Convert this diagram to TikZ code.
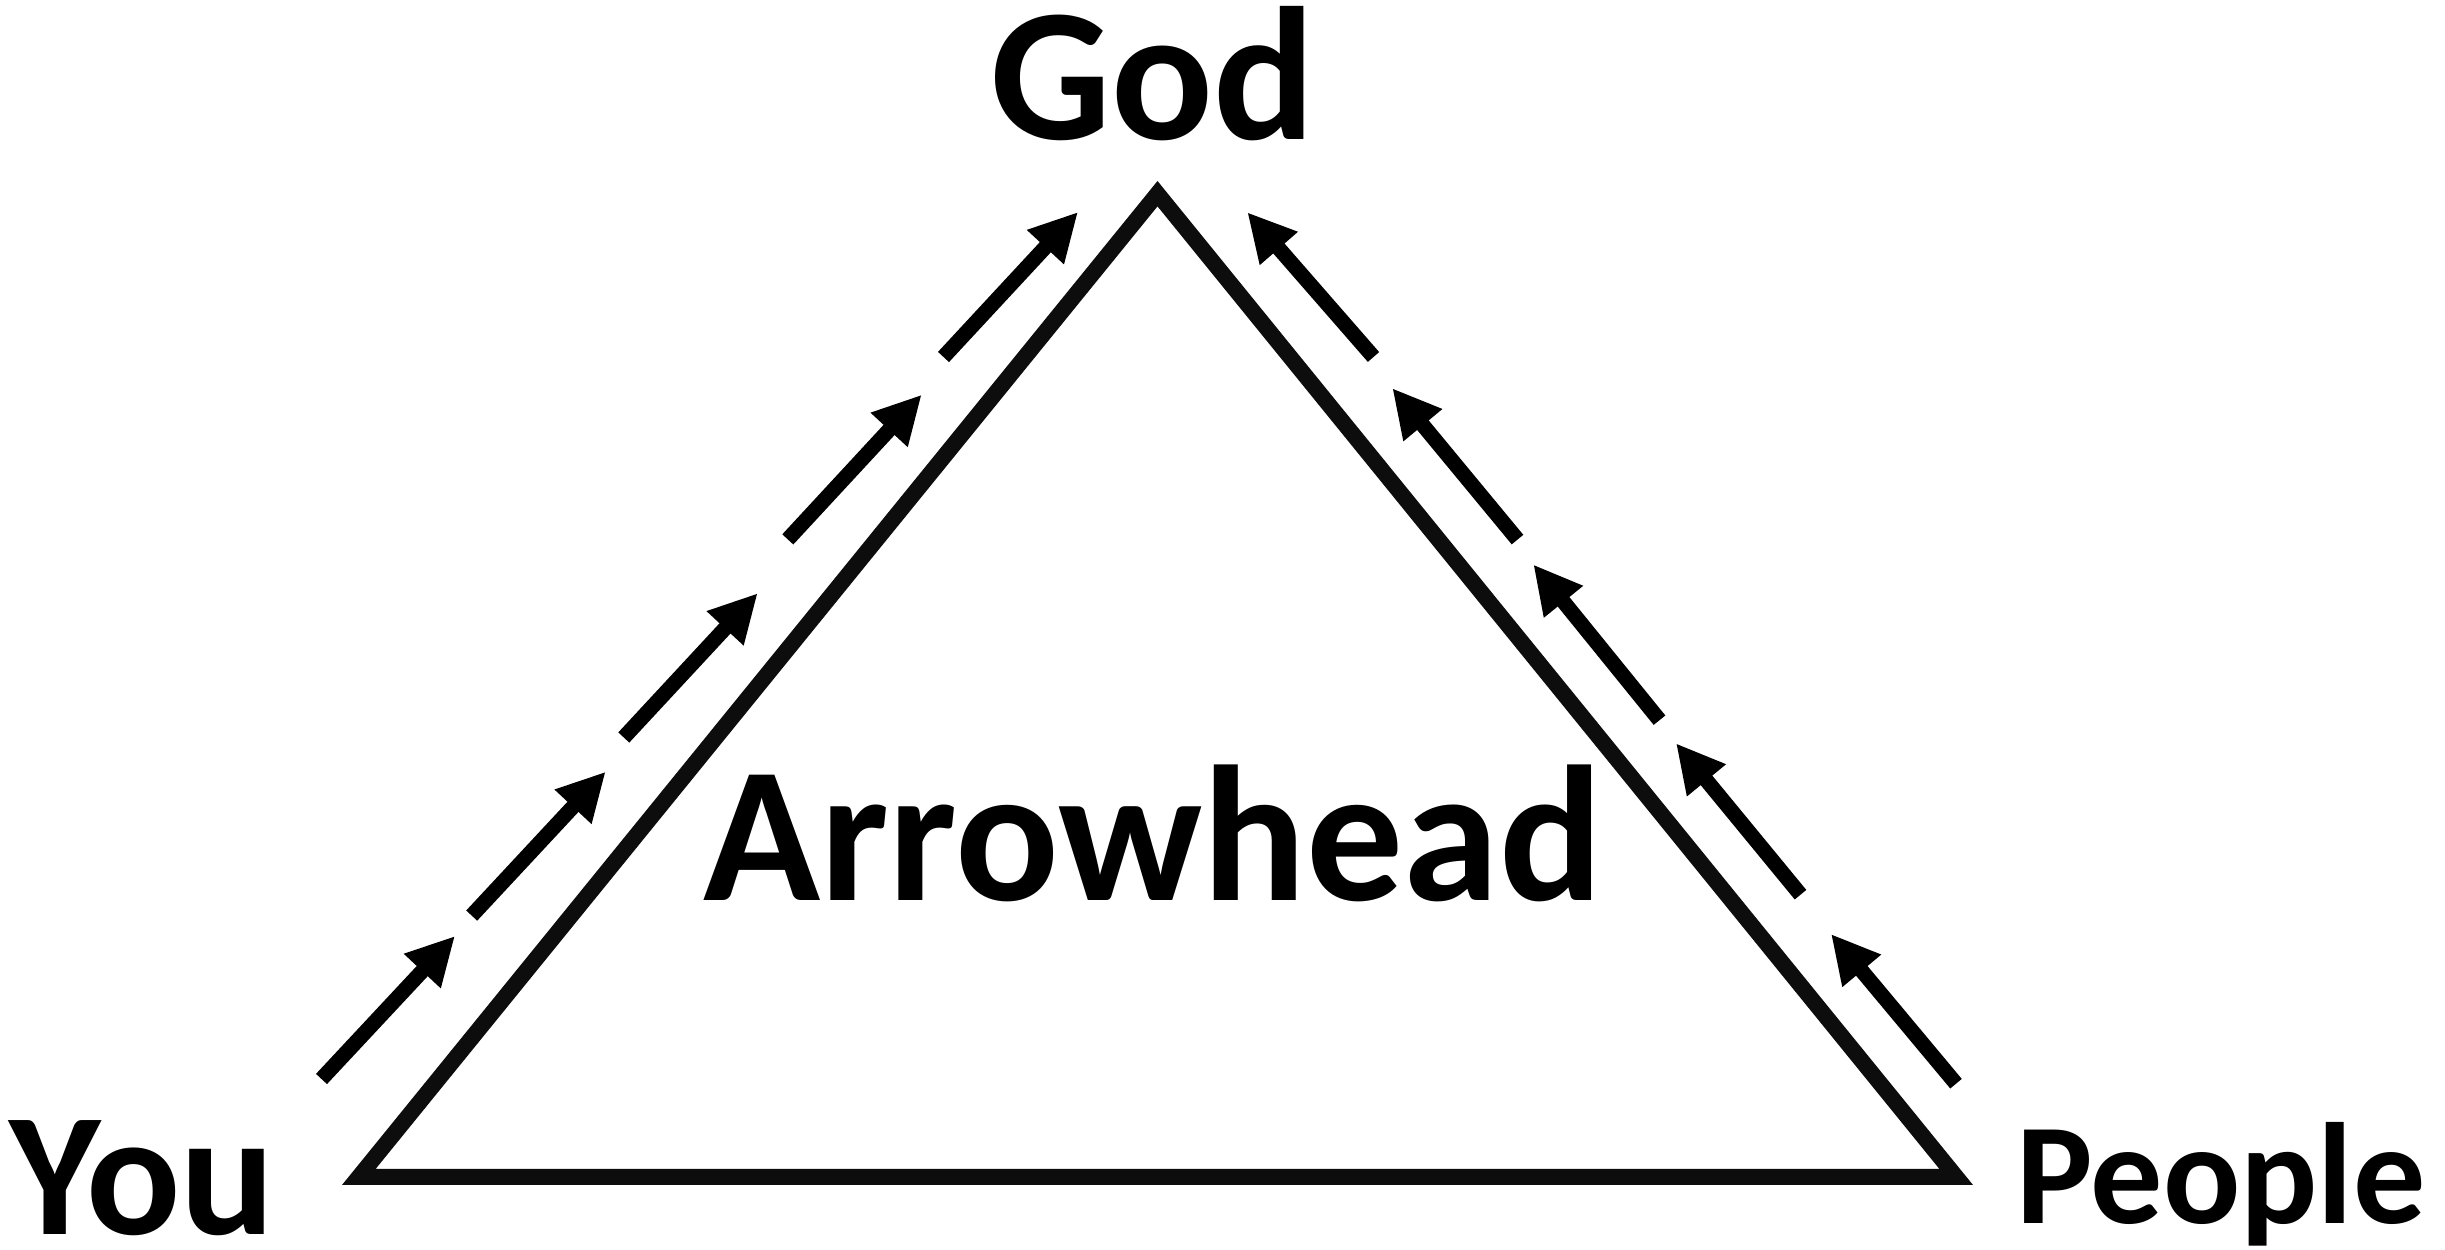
\documentclass[tikz,border=0pt]{standalone}
\usepackage{fontspec}
\setmainfont{Carlito}
\usetikzlibrary{arrows.meta}
\definecolor{edgeblack}{HTML}{0D0D0D}

\begin{document}
\begin{tikzpicture}[
      every node/.style={inner sep=0pt,anchor=base,font=\bfseries},
      side/.style={draw=edgeblack,line width=1.6mm,line join=miter},
      upflow/.style={draw=black,line width=1.5mm,
        -{Triangle[length=4.8mm,width=4.7mm]}}
    ]
    \useasboundingbox (0,0) rectangle (24.45,12.5);

    \coordinate (top)   at (11.575,10.563);
    \coordinate (left)  at (3.588,0.73);
    \coordinate (right) at (19.562,0.73);
    \draw[side] (left) -- (top) -- (right) -- cycle;

    \node[font=\bfseries\fontsize{54}{60}\selectfont] (god) at (11.53,11.10) {God};
    \node[font=\bfseries\fontsize{55}{60}\selectfont] (label) at (11.53,3.49) {Arrowhead};
    \node[font=\bfseries\fontsize{50}{56}\selectfont] (you) at (1.42,0.15) {You};
    \node[font=\bfseries\fontsize{41}{48}\selectfont] (people) at (22.21,0.26) {People};

    % you to god
    \draw[upflow] (3.215,1.71) -- (4.55,3.14);
    \draw[upflow] (4.717,3.344) -- (6.057,4.783);
    \draw[upflow] (6.238,5.125) -- (7.577,6.568);
    \draw[upflow] (7.878,7.106) -- (9.217,8.553);
    \draw[upflow] (9.435,8.93) -- (10.78,10.38);

    % people to god
    \draw[upflow] (19.56,1.663) -- (18.31,3.16);
    \draw[upflow] (18.005,3.553) -- (16.76,5.067);
    \draw[upflow] (16.595,5.298) -- (15.333,6.855);
    \draw[upflow] (15.175,7.104) -- (13.923,8.618);
    \draw[upflow] (13.735,8.93) -- (12.473,10.377);
  \end{tikzpicture}
\end{document}
